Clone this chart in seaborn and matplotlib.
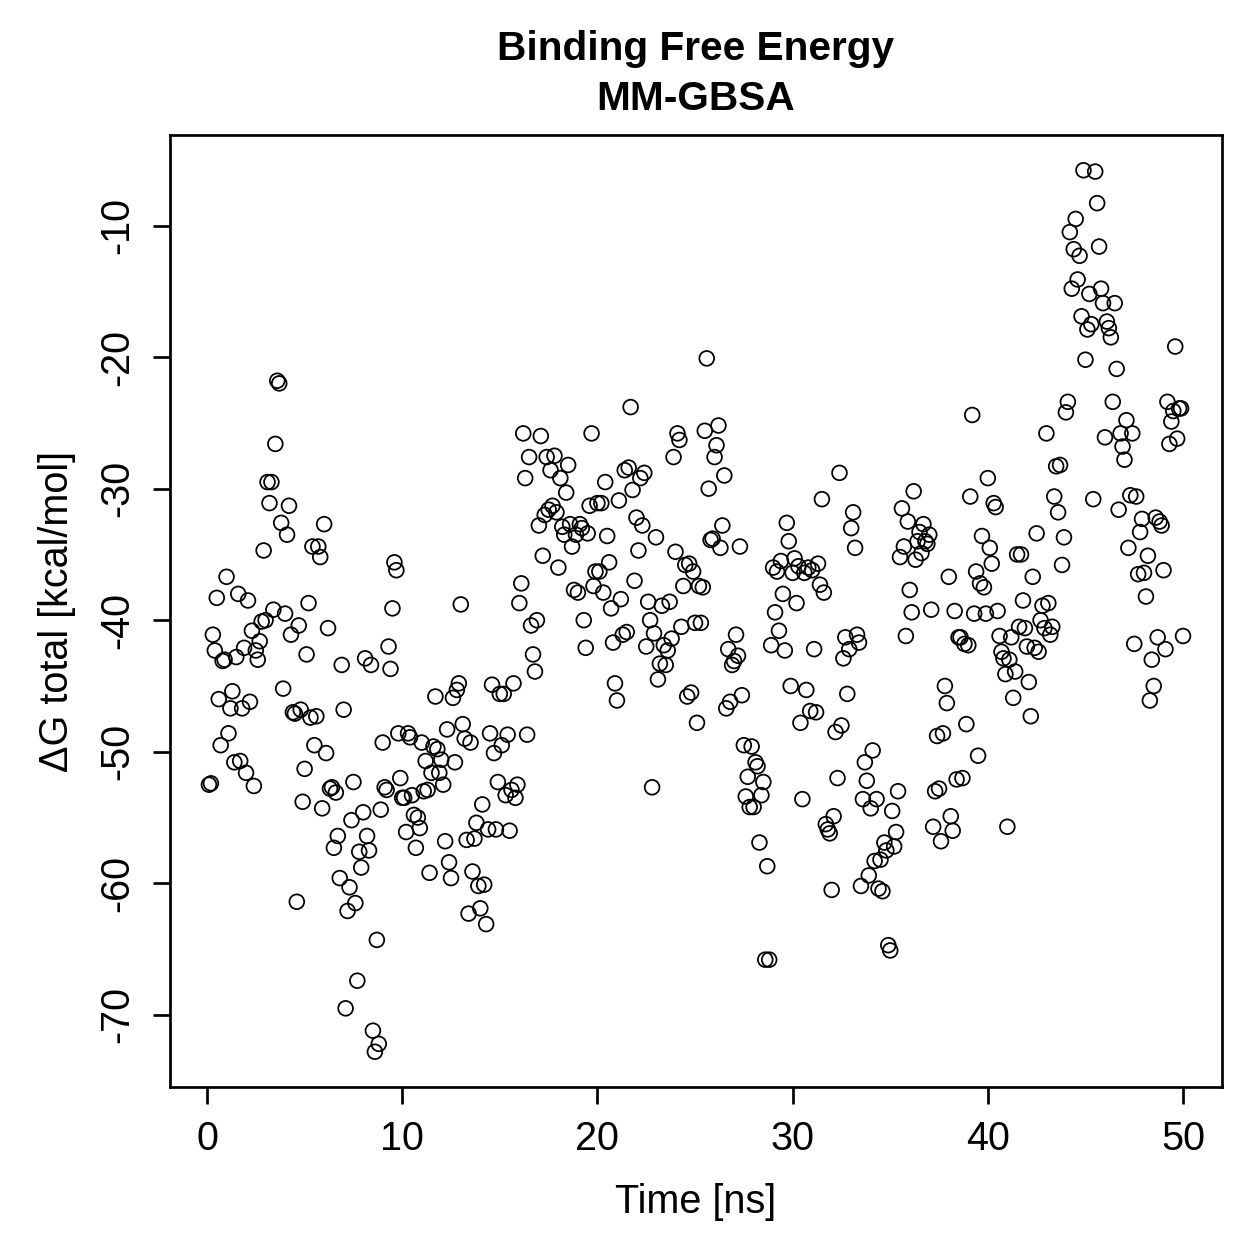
import numpy as np
import pandas as pd
import matplotlib
matplotlib.use('Agg')
import matplotlib.pyplot as plt
from matplotlib import font_manager
import seaborn as sns

# ---------------------------------------------------------
# Data: MM-GBSA total binding free energy, one frame / 0.1 ns
# (in 5 ns blocks)
# ---------------------------------------------------------
step_ns = 0.1

dg_00_05 = [-52.5, -52.4, -41.1, -42.3, -38.3, -46.0, -49.5, -43.1, -43.0, -36.7,
            -48.6, -46.7, -45.4, -50.8, -42.8, -38.0, -50.7, -46.7, -42.1, -51.6,
            -38.5, -46.2, -40.8, -52.6, -42.3, -43.0, -41.6, -40.1, -34.7, -40.0,
            -29.5, -31.1, -29.5, -39.2, -26.6, -21.8, -22.0, -32.6, -45.2, -39.5,
            -33.5, -31.3, -41.1, -47.0, -47.1, -61.4, -40.4, -46.8, -53.8, -51.3]

dg_05_10 = [-42.6, -38.7, -47.4, -34.4, -49.5, -47.3, -34.4, -35.2, -54.3, -32.7,
            -50.1, -40.6, -52.8, -52.7, -57.3, -53.1, -56.4, -59.6, -43.4, -46.8,
            -69.5, -62.1, -60.3, -55.2, -52.3, -61.5, -67.4, -57.6, -58.8, -54.6,
            -42.9, -56.4, -57.5, -43.4, -71.2, -72.8, -64.3, -72.2, -54.4, -49.3,
            -52.7, -52.9, -42.0, -43.7, -39.1, -35.6, -36.2, -48.6, -52.0, -53.5]

dg_10_15 = [-53.5, -56.1, -48.6, -48.9, -53.3, -54.8, -57.3, -55.0, -55.8, -49.3,
            -53.0, -50.7, -52.9, -59.2, -51.6, -49.6, -45.8, -49.8, -51.6, -50.6,
            -52.5, -56.8, -48.3, -58.4, -59.6, -45.9, -50.8, -45.3, -44.8, -38.8,
            -47.9, -49.0, -56.7, -62.3, -49.3, -59.1, -56.6, -55.4, -60.2, -61.9,
            -54.0, -60.1, -63.1, -55.9, -48.6, -44.9, -50.1, -55.9, -52.3, -45.6]

dg_15_20 = [-49.5, -45.6, -53.3, -48.7, -56.0, -52.9, -44.8, -53.5, -52.5, -38.7,
            -37.2, -25.8, -29.2, -48.7, -27.6, -40.4, -42.6, -43.9, -40.0, -32.8,
            -26.0, -35.1, -32.0, -27.6, -31.6, -28.6, -31.3, -27.5, -31.8, -36.0,
            -29.2, -32.9, -33.5, -30.3, -28.2, -32.7, -34.4, -37.7, -33.5, -37.9,
            -32.7, -33.0, -40.0, -42.1, -33.4, -31.3, -25.8, -37.4, -36.3, -31.1]

dg_20_25 = [-36.3, -31.1, -37.9, -29.5, -33.6, -35.6, -39.1, -41.7, -44.8, -46.1,
            -30.9, -38.4, -41.1, -28.6, -40.9, -28.4, -23.8, -30.1, -37.0, -32.2,
            -34.7, -29.2, -32.8, -28.8, -42.0, -38.6, -40.0, -52.7, -41.0, -33.7,
            -44.5, -43.3, -38.9, -41.9, -43.4, -42.3, -38.6, -41.4, -27.6, -34.8,
            -25.8, -26.3, -40.5, -37.4, -35.8, -45.8, -35.7, -45.5, -36.3, -40.2]

dg_25_30 = [-47.8, -37.4, -40.2, -37.5, -25.6, -20.1, -30.0, -33.9, -33.8, -27.6,
            -26.7, -25.2, -34.5, -32.8, -29.0, -46.7, -42.2, -46.2, -43.4, -43.1,
            -41.1, -42.7, -34.4, -45.7, -49.5, -53.4, -51.9, -54.2, -49.6, -54.2,
            -50.8, -51.1, -56.9, -53.3, -52.3, -65.8, -58.7, -65.8, -41.9, -36.0,
            -39.4, -36.3, -40.8, -35.5, -38.0, -42.3, -32.6, -34.0, -45.0, -36.4]

dg_30_35 = [-35.3, -38.7, -35.9, -47.8, -53.6, -36.4, -45.3, -36.0, -46.9, -36.2,
            -42.2, -47.0, -35.7, -37.3, -30.8, -37.9, -55.5, -55.9, -56.2, -60.5,
            -54.9, -48.5, -52.0, -28.8, -48.0, -42.9, -41.3, -45.6, -42.2, -33.0,
            -31.8, -34.5, -41.1, -41.7, -60.2, -53.6, -50.8, -52.2, -59.4, -54.3,
            -49.9, -58.3, -53.6, -60.4, -58.2, -60.6, -56.9, -57.5, -64.7, -65.1]

dg_35_40 = [-54.5, -57.2, -56.1, -53.0, -35.2, -31.5, -34.4, -41.2, -32.5, -37.7,
            -39.4, -30.2, -35.4, -34.0, -33.3, -34.9, -32.7, -34.0, -34.2, -33.5,
            -39.2, -55.7, -53.0, -48.8, -52.8, -56.8, -48.6, -45.0, -46.3, -36.7,
            -54.9, -56.0, -39.3, -52.1, -41.3, -41.3, -52.0, -41.8, -47.9, -41.9,
            -30.6, -24.4, -39.5, -36.3, -50.3, -37.2, -33.6, -37.5, -39.5, -29.2]

dg_40_45 = [-34.5, -35.7, -31.1, -31.4, -39.3, -41.2, -42.4, -42.9, -44.1, -55.7,
            -43.0, -41.3, -45.9, -43.9, -35.0, -40.5, -35.0, -38.5, -40.6, -42.0,
            -44.7, -47.3, -36.7, -42.1, -33.4, -42.4, -40.0, -38.9, -40.6, -25.8,
            -38.7, -41.1, -40.5, -30.6, -28.3, -31.8, -28.2, -35.8, -33.7, -24.2,
            -23.4, -10.5, -14.8, -11.8, -9.5, -14.1, -12.3, -16.9, -5.8, -20.2]

dg_45_50 = [-17.9, -15.2, -17.5, -30.8, -5.9, -8.3, -11.6, -14.8, -15.9, -26.1,
            -17.3, -17.8, -18.5, -23.4, -15.9, -20.9, -31.6, -25.8, -26.8, -27.8,
            -24.8, -34.5, -30.5, -25.8, -41.8, -30.6, -36.5, -33.3, -32.3, -36.4,
            -38.2, -35.1, -46.1, -43.0, -45.0, -32.2, -41.3, -32.5, -32.8, -36.2,
            -42.2, -23.4, -26.6, -24.9, -24.1, -19.2, -26.2, -23.9, -23.9, -41.2]

x_ticks = [0, 10, 20, 30, 40, 50]
y_ticks = [-70, -60, -50, -40, -30, -20, -10]

dg = (dg_00_05 + dg_05_10 + dg_10_15 + dg_15_20 + dg_20_25 +
      dg_25_30 + dg_30_35 + dg_35_40 + dg_40_45 + dg_45_50)
frames = np.arange(1, len(dg) + 1)
df = pd.DataFrame({'Time': frames * step_ns, 'dG': dg})

# ---------------------------------------------------------
# Plot (base-R look)
# ---------------------------------------------------------
sns.set_style('ticks')

# R's png() Helvetica looks condensed; use a narrow face when installed
names = {f.name for f in font_manager.fontManager.ttflist}
if 'Liberation Sans Narrow' in names:
    plt.rcParams['font.family'] = ['Liberation Sans Narrow', 'DejaVu Sans']
    fs, fs_title = 23, 23.5
else:
    plt.rcParams['font.family'] = ['Liberation Sans', 'DejaVu Sans']
    fs, fs_title = 19, 19.5
plt.rcParams.update({'text.color': 'black', 'axes.labelcolor': 'black',
                     'xtick.color': 'black', 'ytick.color': 'black'})

fig = plt.figure(figsize=(1259 / 150, 1259 / 150), dpi=150)
ax = fig.add_axes([170 / 1259, 1 - 1087 / 1259, (1222 - 170) / 1259, (1087 - 135) / 1259])

sns.scatterplot(data=df, x='Time', y='dG', ax=ax, marker='o', s=50,
                facecolor='none', edgecolor='black', linewidth=0.85, legend=False)

# R-style 4% padding
xr = df['Time'].max() - df['Time'].min()
yr = df['dG'].max() - df['dG'].min()
ax.set_xlim(df['Time'].min() - 0.04 * xr, df['Time'].max() + 0.04 * xr)
ax.set_ylim(df['dG'].min() - 0.04 * yr, df['dG'].max() + 0.04 * yr)

ax.set_xticks(x_ticks)
ax.set_yticks(y_ticks)
ax.set_yticklabels([str(v) for v in y_ticks], rotation=90, va='center')
ax.tick_params(axis='both', direction='out', length=8, width=1.3,
               labelsize=fs, pad=8)

for sp in ax.spines.values():
    sp.set_visible(True)
    sp.set_linewidth(1.3)
    sp.set_color('black')

ax.set_xlabel('Time [ns]', fontsize=fs, labelpad=12)
ax.set_ylabel('ΔG total [kcal/mol]', fontsize=fs, labelpad=11)
ax.set_title('Binding Free Energy\nMM-GBSA', fontsize=fs_title, fontweight='bold',
             pad=12, linespacing=1.4)

plt.savefig('out.png', dpi=150)
